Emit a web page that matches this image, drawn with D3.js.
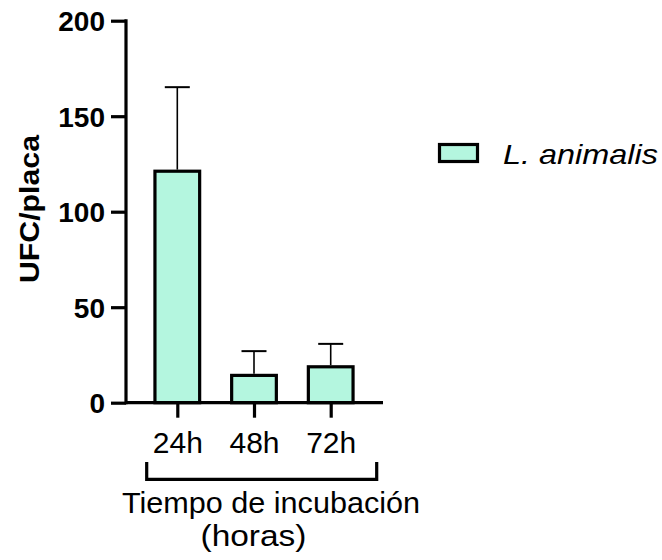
<!DOCTYPE html>
<html>
<head>
<meta charset="utf-8">
<script src="https://cdn.jsdelivr.net/npm/d3@7"></script>
<style>
  html, body { margin: 0; padding: 0; background: #fff; }
  svg { display: block; font-family: "Liberation Sans", Arial, sans-serif; }
</style>
</head>
<body>
<svg id="chart" width="662" height="560"></svg>
<script>
const categories = ["24h", "48h", "72h"];
const means = [121.2, 14.3, 18.8];
const errors = [44.0, 12.7, 12.0];
const yTicks = [0, 50, 100, 150, 200];
const seriesName = "L. animalis";
const xTitle = ["Tiempo de incubación", "(horas)"];
const yTitle = "UFC/placa";

const fill = "#b4f6df";
const svg = d3.select("#chart");

const y = d3.scaleLinear().domain([0, 200]).range([402.7, 20.7]);
const x = d3.scalePoint().domain(categories).range([138.95, 369.05]).padding(0.5);
const barW = 44.7;
const axisX = 126;

// bars
svg.append("g").selectAll("rect").data(categories).join("rect")
  .attr("x", d => x(d) - barW / 2)
  .attr("y", (d, i) => y(means[i]))
  .attr("width", barW)
  .attr("height", (d, i) => y(0) - y(means[i]))
  .attr("fill", fill)
  .attr("stroke", "#000")
  .attr("stroke-width", 3.2);

// error bars
const eb = svg.append("g").attr("stroke", "#000");
eb.selectAll("line.v").data(categories).join("line").attr("class", "v")
  .attr("x1", d => x(d)).attr("x2", d => x(d))
  .attr("y1", (d, i) => y(means[i]) - 1.6)
  .attr("y2", (d, i) => y(means[i] + errors[i]))
  .attr("stroke-width", 1.6);
eb.selectAll("line.c").data(categories).join("line").attr("class", "c")
  .attr("x1", d => x(d) - 12.5).attr("x2", d => x(d) + 12.5)
  .attr("y1", (d, i) => y(means[i] + errors[i]))
  .attr("y2", (d, i) => y(means[i] + errors[i]))
  .attr("stroke-width", 2);

// y axis
const yAxis = svg.append("g").attr("transform", `translate(${axisX},0)`)
  .call(d3.axisLeft(y).tickValues(yTicks).tickSize(15).tickPadding(6).tickSizeOuter(0));
yAxis.select(".domain").remove();
yAxis.append("line").attr("x1", 0).attr("x2", 0)
  .attr("y1", y(200) - 1.5).attr("y2", y(0) + 1.5)
  .attr("stroke", "#000").attr("stroke-width", 3.2);
yAxis.selectAll(".tick line").attr("stroke", "#000").attr("stroke-width", 3.2);
yAxis.selectAll(".tick text")
  .attr("fill", "#000")
  .style("font-size", "28px").style("font-weight", "bold")
  .style("font-family", "'Liberation Sans', Arial, sans-serif")
  .attr("dy", "0.36em");

// x axis
const xAxis = svg.append("g").attr("transform", `translate(0,${y(0)})`)
  .call(d3.axisBottom(x).tickSize(15).tickPadding(12).tickSizeOuter(0));
xAxis.select(".domain").remove();
xAxis.append("line").attr("x1", axisX).attr("x2", 383)
  .attr("y1", 0).attr("y2", 0)
  .attr("stroke", "#000").attr("stroke-width", 3.2);
xAxis.selectAll(".tick line").attr("stroke", "#000").attr("stroke-width", 3.2);
xAxis.selectAll(".tick text")
  .attr("fill", "#000")
  .attr("dy", null).attr("y", 50.5)
  .style("font-size", "30px")
  .style("font-family", "'Liberation Sans', Arial, sans-serif");

// bracket
svg.append("path")
  .attr("d", `M146.7,462 V479.3 H376.7 V462`)
  .attr("fill", "none").attr("stroke", "#000").attr("stroke-width", 3.2);

// x title
svg.append("text").attr("x", 271).attr("y", 513).attr("text-anchor", "middle")
  .attr("textLength", 298).attr("lengthAdjust", "spacingAndGlyphs")
  .style("font-size", "29px").text(xTitle[0]);
svg.append("text").attr("x", 253.5).attr("y", 546).attr("text-anchor", "middle")
  .attr("textLength", 106).attr("lengthAdjust", "spacingAndGlyphs")
  .style("font-size", "29px").text(xTitle[1]);

// y title
svg.append("text")
  .attr("transform", "translate(39,209) rotate(-90)")
  .attr("text-anchor", "middle")
  .attr("textLength", 148).attr("lengthAdjust", "spacingAndGlyphs")
  .style("font-size", "27px").style("font-weight", "bold")
  .text(yTitle);

// legend
svg.append("rect").attr("x", 439.5).attr("y", 144.5).attr("width", 38).attr("height", 17)
  .attr("fill", fill).attr("stroke", "#000").attr("stroke-width", 3.2);
svg.append("text").attr("x", 503).attr("y", 163.5)
  .attr("textLength", 155).attr("lengthAdjust", "spacingAndGlyphs")
  .style("font-size", "28px").style("font-style", "italic")
  .text(seriesName);
</script>
</body>
</html>
